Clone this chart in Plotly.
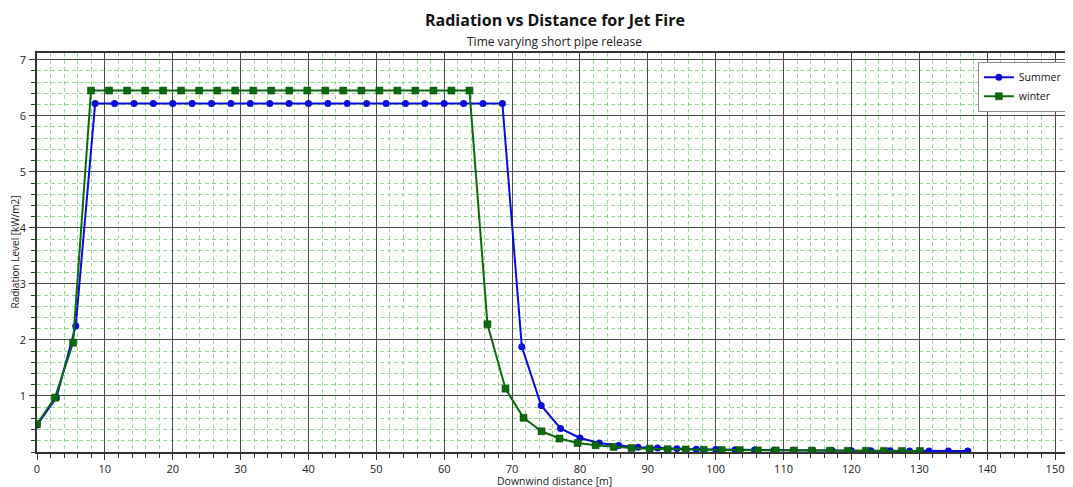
import plotly.graph_objects as go

# ---- data ----
summer_x = [0, 2.86, 5.71, 8.57, 11.43, 14.29, 17.14, 20.0, 22.86, 25.71, 28.57, 31.43, 34.29,
            37.14, 40.0, 42.86, 45.71, 48.57, 51.43, 54.29, 57.14, 60.0, 62.86, 65.71, 68.57,
            71.43, 74.29, 77.14, 80.0, 82.86, 85.71, 88.57, 91.43, 94.29, 97.14, 100.0, 102.86,
            105.71, 108.57, 111.43, 114.29, 117.14, 120.0, 122.86, 125.71, 128.57, 131.43,
            134.29, 137.14]
summer_y = [0.48, 0.97, 2.25, 6.22, 6.22, 6.22, 6.22, 6.22, 6.22, 6.22, 6.22, 6.22, 6.22,
            6.22, 6.22, 6.22, 6.22, 6.22, 6.22, 6.22, 6.22, 6.22, 6.22, 6.22, 6.22,
            1.88, 0.83, 0.42, 0.25, 0.16, 0.115, 0.085, 0.07, 0.06, 0.05, 0.045, 0.04,
            0.036, 0.033, 0.03, 0.028, 0.026, 0.024, 0.022, 0.021, 0.02, 0.019, 0.018, 0.017]

winter_x = [0, 2.65, 5.31, 7.96, 10.62, 13.27, 15.93, 18.58, 21.24, 23.89, 26.55, 29.2, 31.86,
            34.51, 37.17, 39.82, 42.48, 45.13, 47.79, 50.44, 53.1, 55.75, 58.41, 61.06, 63.72,
            66.37, 69.03, 71.68, 74.34, 76.99, 79.65, 82.3, 84.96, 87.61, 90.27, 92.92, 95.58,
            98.23, 100.89, 103.54, 106.2, 108.85, 111.51, 114.16, 116.82, 119.47, 122.13,
            124.78, 127.44, 130.09]
winter_y = [0.5, 0.97, 1.95, 6.45, 6.45, 6.45, 6.45, 6.45, 6.45, 6.45, 6.45, 6.45, 6.45,
            6.45, 6.45, 6.45, 6.45, 6.45, 6.45, 6.45, 6.45, 6.45, 6.45, 6.45, 6.45,
            2.28, 1.13, 0.61, 0.37, 0.24, 0.16, 0.12, 0.09, 0.07, 0.06, 0.05, 0.045,
            0.04, 0.036, 0.033, 0.03, 0.028, 0.026, 0.024, 0.023, 0.022, 0.021, 0.02, 0.019, 0.018]

x_ticks = [0, 10, 20, 30, 40, 50, 60, 70, 80, 90, 100, 110, 120, 130, 140, 150]
y_ticks = [1, 2, 3, 4, 5, 6, 7]

FONT = "Open Sans, Noto Sans, DejaVu Sans, sans-serif"

fig = go.Figure()
fig.add_trace(go.Scatter(
    x=summer_x, y=summer_y, name="Summer", mode="lines+markers",
    line=dict(color="#0a0adc", width=2),
    marker=dict(symbol="circle", size=7, color="#0a0adc"),
))
fig.add_trace(go.Scatter(
    x=winter_x, y=winter_y, name="winter", mode="lines+markers",
    line=dict(color="#0b6a0b", width=2),
    marker=dict(symbol="square", size=7, color="#0b6a0b", line=dict(color="#063f06", width=0.5)),
))

# page body has an 8px default margin, so the figure is sized/offset to compensate
fig.update_layout(
    width=1065, height=479,
    margin=dict(l=29, r=1, t=45, b=35, autoexpand=False),
    paper_bgcolor="white", plot_bgcolor="white",
    font=dict(family=FONT, size=11, color="#222222"),
    showlegend=True,
    legend=dict(x=0.996, y=0.978, xanchor="right", yanchor="top",
                bgcolor="white", bordercolor="#8a8a8a", borderwidth=1,
                font=dict(size=10.5, color="#111111"), itemwidth=30,
                tracegroupgap=0),
    annotations=[
        dict(text="<b>Radiation vs Distance for Jet Fire</b>", xref="paper", yref="paper",
             x=0.5, y=1, yshift=33, xanchor="center", yanchor="middle", showarrow=False,
             font=dict(size=16, color="#111111", family=FONT)),
        dict(text="Time varying short pipe release", xref="paper", yref="paper",
             x=0.5, y=1, yshift=12, xanchor="center", yanchor="middle", showarrow=False,
             font=dict(size=12, color="#222222", family=FONT)),
        dict(text="Downwind distance [m]", xref="paper", yref="paper",
             x=0.5, y=0, yshift=-29, xanchor="center", yanchor="middle", showarrow=False,
             font=dict(size=10.5, color="#222222", family=FONT)),
        dict(text="Radiation Level [kW/m2]", xref="paper", yref="paper",
             x=0, y=0.5, xshift=-23, xanchor="center", yanchor="middle", showarrow=False,
             textangle=-90, font=dict(size=10, color="#222222", family=FONT)),
    ],
)

common_minor = dict(showgrid=True, gridcolor="#95d595", griddash="4px,3px",
                    gridwidth=1, ticks="outside", ticklen=4, tickcolor="#333333")

fig.update_xaxes(
    range=[0, 152.5], tickvals=x_ticks, ticktext=[str(v) for v in x_ticks],
    automargin=False,
    showgrid=True, gridcolor="#4a4a4a", gridwidth=1.3,
    showline=True, linecolor="#333333", linewidth=1.5, mirror=True,
    ticks="outside", ticklen=6, tickcolor="#333333", ticklabelstandoff=0,
    tickfont=dict(size=11, color="#222222"),
    zeroline=False,
    minor=dict(dtick=2, tick0=0, **common_minor),
)
fig.update_yaxes(
    range=[0, 7.12], tickvals=y_ticks, ticktext=[str(v) for v in y_ticks],
    automargin=False,
    showgrid=True, gridcolor="#4a4a4a", gridwidth=1.3,
    showline=True, linecolor="#333333", linewidth=1.5, mirror=True,
    ticks="outside", ticklen=6, tickcolor="#333333", ticklabelstandoff=1,
    tickfont=dict(size=11, color="#222222"),
    zeroline=False,
    minor=dict(dtick=0.2, tick0=0, **common_minor),
)

fig.write_html("out.html")
